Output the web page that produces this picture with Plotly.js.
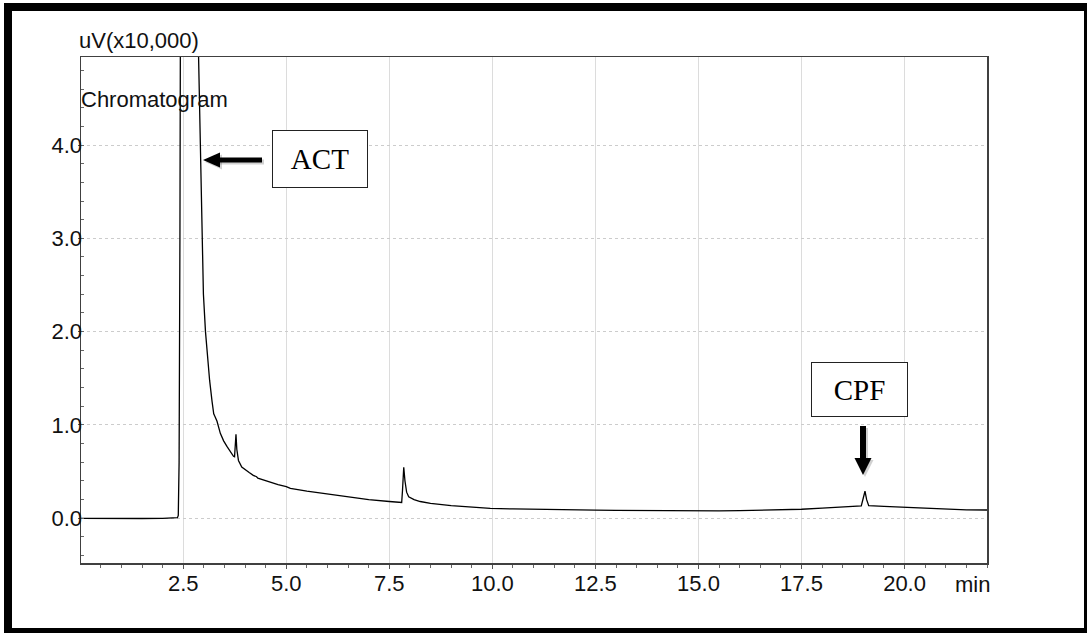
<!DOCTYPE html>
<html>
<head>
<meta charset="utf-8">
<script src="https://cdn.plot.ly/plotly-3.0.1.min.js"></script>
<style>
html,body{margin:0;padding:0;background:#fff;}
#chart{width:1087px;height:633px;}
</style>
</head>
<body>
<div id="chart"></div>
<script>
// ---- Data (retention time in min, signal in uV x 10,000) ----
const timeMin = [0.0, 0.5, 1.0, 1.5, 2.0, 2.3, 2.36, 2.38, 2.40, 2.42, 2.44,
  2.87, 2.91, 2.95, 2.99, 3.04, 3.09, 3.14, 3.20, 3.24, 3.27, 3.29, 3.32, 3.40, 3.48, 3.56, 3.64, 3.72, 3.745,
  3.76, 3.78, 3.80, 3.82, 3.84, 3.92, 4.00, 4.10, 4.20, 4.28, 4.31, 4.45, 4.61, 4.80, 5.00, 5.10, 5.50, 6.00,
  6.25, 6.50, 7.00, 7.50, 7.77, 7.80, 7.82, 7.85, 7.88, 7.92, 7.97, 8.10, 8.25, 8.50, 9.00, 9.50, 9.95,
  10.5, 11.0, 12.0, 12.5, 13.0, 14.0, 14.5, 15.0, 15.5, 16.0, 16.5, 17.0, 17.5, 18.0, 18.5, 18.8, 18.95,
  19.00, 19.04, 19.08, 19.13, 19.5, 20.0, 20.5, 21.0, 21.5, 22.0];
const signal = [0.0, -0.003, 0.0, -0.002, 0.0, 0.002, 0.006, 0.03, 0.6, 3.0, 7.0,
  5.0, 4.0, 3.0, 2.4, 2.0, 1.7, 1.48, 1.25, 1.12, 1.09, 1.07, 1.04, 0.91, 0.83, 0.77, 0.71, 0.665, 0.66,
  0.76, 0.90, 0.74, 0.64, 0.62, 0.55, 0.52, 0.49, 0.46, 0.445, 0.43, 0.41, 0.39, 0.36, 0.34, 0.32, 0.29, 0.26,
  0.25, 0.23, 0.20, 0.18, 0.167, 0.17, 0.30, 0.547, 0.40, 0.28, 0.23, 0.20, 0.18, 0.16, 0.135, 0.12, 0.107,
  0.10, 0.095, 0.09, 0.088, 0.085, 0.081, 0.079, 0.078, 0.079, 0.082, 0.086, 0.091, 0.097, 0.108, 0.122, 0.128, 0.133,
  0.22, 0.29, 0.20, 0.135, 0.128, 0.118, 0.105, 0.095, 0.09, 0.089];

const xTickVals = [2.5, 5.0, 7.5, 10.0, 12.5, 15.0, 17.5, 20.0];
const xTickText = ["2.5", "5.0", "7.5", "10.0", "12.5", "15.0", "17.5", "20.0"];
const yTickVals = [0, 1, 2, 3, 4];
const yTickText = ["0.0", "1.0", "2.0", "3.0", "4.0"];
const peakLabels = ["ACT", "CPF"];

// ---- Layout helpers (pixel -> paper) ----
const W = 1087, H = 633;
const L = 81, R = 987, T = 57, B = 563;
const px = v => (v - L) / (R - L);
const py = v => (B - v) / (B - T);

const sansFont = "Liberation Sans, Arial, sans-serif";
const serifFont = "Liberation Serif, Times New Roman, serif";
const FS = 22;

function rect(x0, y0, x1, y1, color) {
  return {type: 'rect', xref: 'paper', yref: 'paper', x0: px(x0), x1: px(x1), y0: py(y0), y1: py(y1),
    fillcolor: color, line: {width: 0}, layer: 'above'};
}
function tri(pts, color) {
  const p = pts.map((q, i) => (i ? 'L' : 'M') + px(q[0]) + ',' + py(q[1])).join(' ') + ' Z';
  return {type: 'path', xref: 'paper', yref: 'paper', path: p, fillcolor: color, line: {width: 0}, layer: 'above'};
}

const shapes = [
  // outer black frame
  rect(4, 3, 1087, 11, '#000'),
  rect(4, 3, 12, 633, '#000'),
  rect(1084, 3, 1087, 633, '#000'),
  rect(4, 628, 1087, 633, '#000'),
  // ACT arrow (shadow + arrow)
  rect(220, 159.5, 264, 164.5, 'rgba(0,0,0,0.18)'),
  tri([[205, 162], [222, 154.5], [222, 169.5]], 'rgba(0,0,0,0.18)'),
  rect(218, 157.5, 262, 162.5, '#000'),
  tri([[203, 160], [220, 152.5], [220, 167.5]], '#000'),
  // CPF arrow (shadow + arrow)
  rect(862, 428, 868, 462, 'rgba(0,0,0,0.18)'),
  tri([[865, 477], [856.5, 460], [873.5, 460]], 'rgba(0,0,0,0.18)'),
  rect(860, 426, 866, 460, '#000'),
  tri([[863, 475], [854.5, 458], [871.5, 458]], '#000')
];

const annotations = [
  {xref: 'paper', yref: 'paper', x: px(77), y: py(55), xanchor: 'left', yanchor: 'bottom',
   text: 'uV(x10,000)', showarrow: false, font: {family: sansFont, size: FS, color: '#111'}},
  {xref: 'paper', yref: 'paper', x: px(79), y: py(100), xanchor: 'left', yanchor: 'middle',
   text: 'Chromatogram', showarrow: false, font: {family: sansFont, size: FS, color: '#111'}},
  {xref: 'paper', yref: 'paper', x: px(972), y: py(584), xanchor: 'center', yanchor: 'middle',
   text: 'min', showarrow: false, font: {family: sansFont, size: FS, color: '#111'}},
  {xref: 'paper', yref: 'paper', x: px(320), y: py(159), xanchor: 'center', yanchor: 'middle',
   text: peakLabels[0], showarrow: false, width: 94, height: 56, borderpad: 0, borderwidth: 1,
   bordercolor: '#222', bgcolor: '#fff', font: {family: serifFont, size: 29, color: '#000'}},
  {xref: 'paper', yref: 'paper', x: px(859.5), y: py(389.5), xanchor: 'center', yanchor: 'middle',
   text: peakLabels[1], showarrow: false, width: 95, height: 53, borderpad: 0, borderwidth: 1,
   bordercolor: '#222', bgcolor: '#fff', font: {family: serifFont, size: 29, color: '#000'}}
];

const trace = {
  x: timeMin, y: signal, type: 'scatter', mode: 'lines',
  line: {color: '#000', width: 1.3}, hoverinfo: 'skip'
};

const layout = {
  width: W, height: H,
  margin: {l: L, r: W - R, t: T, b: H - B, pad: 0},
  paper_bgcolor: '#fff', plot_bgcolor: '#fff',
  showlegend: false,
  xaxis: {
    range: [0.02, 22.0], tickmode: 'array', tickvals: xTickVals, ticktext: xTickText,
    showgrid: true, gridcolor: '#dcdcdc', gridwidth: 1, zeroline: false,
    showline: true, linecolor: '#404040', linewidth: 1.5, mirror: true,
    ticks: 'outside', ticklen: 4, tickcolor: '#555', tickwidth: 1, ticklabelstandoff: -4,
    minor: {dtick: 0.5, tick0: 0, ticks: 'outside', ticklen: 3, tickcolor: '#666', tickwidth: 1, showgrid: false},
    tickfont: {family: sansFont, size: FS, color: '#111'}
  },
  yaxis: {
    range: [-0.479, 4.943], tickmode: 'array', tickvals: yTickVals, ticktext: yTickText,
    showgrid: true, gridcolor: '#cccccc', gridwidth: 1, griddash: 'dot', zeroline: false,
    showline: true, linecolor: '#404040', linewidth: 1.5, mirror: true,
    ticks: 'outside', ticklen: 2, tickcolor: '#555', tickwidth: 1, ticklabelstandoff: -9,
    minor: {dtick: 0.2, tick0: 0, ticks: 'inside', ticklen: 3, tickcolor: '#666', tickwidth: 1, showgrid: false},
    tickfont: {family: sansFont, size: FS, color: '#111'}
  },
  shapes: shapes,
  annotations: annotations
};

Plotly.newPlot('chart', [trace], layout, {displayModeBar: false, staticPlot: true});
</script>
</body>
</html>
